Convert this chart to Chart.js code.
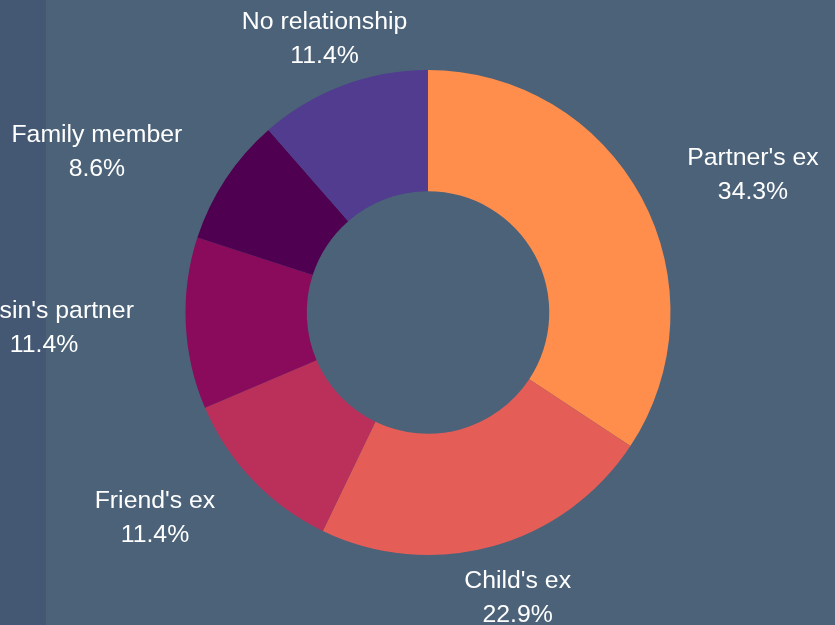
<!DOCTYPE html>
<html>
<head>
<meta charset="utf-8">
<script src="https://cdn.jsdelivr.net/npm/chart.js@4"></script>
<style>
  html, body { margin: 0; padding: 0; background: #4b6279; }
  #wrap { width: 835px; height: 625px; position: relative; }
</style>
</head>
<body>
<div id="wrap"><canvas id="relChart" width="835" height="625"></canvas></div>
<script>
const labels = ["Partner's ex", "Child's ex", "Friend's ex", "Cousin's partner", "Family member", "No relationship"];
const counts = [12, 8, 4, 4, 3, 4];
const colors = ['#ff8e4c', '#e45e57', '#bb2f5b', '#8a0a5c', '#4f0050', '#513c8f'];

const total = counts.reduce((a, b) => a + b, 0);

// background with darker strip on the left
const bgPlugin = {
  id: 'bg',
  beforeDraw(chart) {
    const c = chart.ctx;
    c.save();
    c.fillStyle = '#4b6279';
    c.fillRect(0, 0, chart.width, chart.height);
    c.fillStyle = '#445873';
    c.fillRect(0, 0, 46, chart.height);
    c.restore();
  }
};

// outside labels: name + percent, anchored on a ring beyond the slices
const outLabels = {
  id: 'outLabels',
  afterDatasetsDraw(chart) {
    const c = chart.ctx;
    const meta = chart.getDatasetMeta(0);
    c.save();
    c.font = '24.8px "Liberation Sans", Arial, sans-serif';
    c.fillStyle = '#ffffff';
    c.textBaseline = 'middle';
    c.textAlign = 'center';
    meta.data.forEach((arc, i) => {
      const p = arc.getProps(['x', 'y', 'startAngle', 'endAngle', 'outerRadius'], true);
      const mid = (p.startAngle + p.endAngle) / 2;
      const r = p.outerRadius * 1.214;
      const ax = p.x + Math.cos(mid) * r;
      const ay = p.y + Math.sin(mid) * r;
      const l1 = labels[i];
      const l2 = (counts[i] / total * 100).toFixed(1) + '%';
      const w = Math.max(c.measureText(l1).width, c.measureText(l2).width);
      const cs = Math.cos(mid);
      let f = 0.5;
      if (cs > 0.5) f = 0;
      else if (cs < -0.5) f = 1;
      else if (Math.sin(mid) > 0) f = 0.5 - cs * 0.4;
      const cx = ax - f * w + w / 2;
      c.fillText(l1, cx, ay - 15);
      c.fillText(l2, cx, ay + 19);
    });
    c.restore();
  }
};

new Chart(document.getElementById('relChart'), {
  type: 'doughnut',
  data: {
    labels,
    datasets: [{
      data: counts,
      backgroundColor: colors,
      borderWidth: 0
    }]
  },
  options: {
    responsive: false,
    animation: false,
    cutout: '50%',
    layout: { padding: { left: 185, right: 164, top: 70, bottom: 70 } },
    plugins: {
      legend: { display: false },
      tooltip: { enabled: false }
    }
  },
  plugins: [bgPlugin, outLabels]
});
</script>
</body>
</html>
